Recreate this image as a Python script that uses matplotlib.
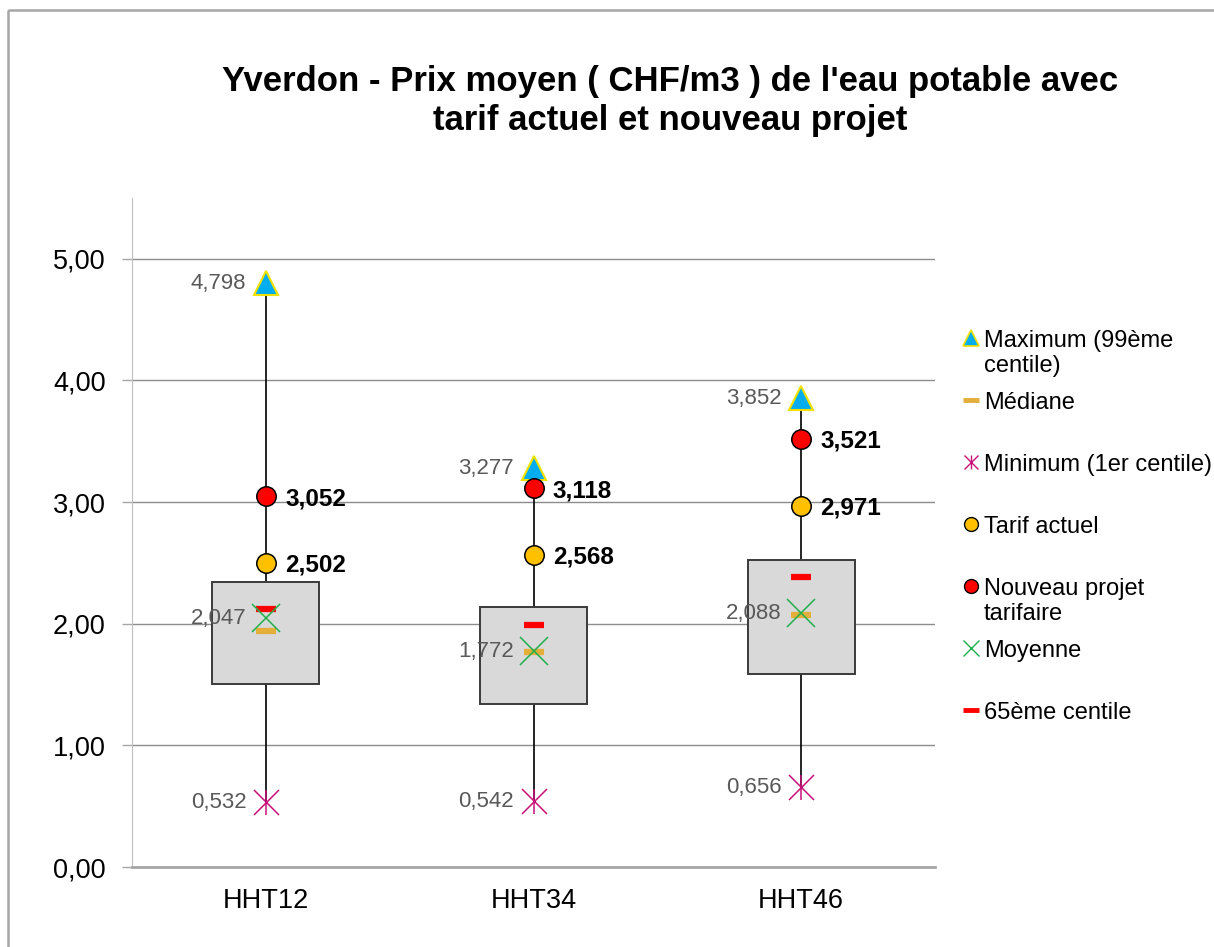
import matplotlib
matplotlib.use("Agg")
import matplotlib.pyplot as plt
from matplotlib.patches import Rectangle

plt.rcParams['font.family'] = ['Liberation Sans', 'DejaVu Sans']

# values (CHF/m3)
categories = ["HHT12", "HHT34", "HHT46"]
maximum = [4.798, 3.277, 3.852]        # 99eme centile
minimum = [0.532, 0.542, 0.656]        # 1er centile
q1 = [1.502, 1.340, 1.587]             # bas de la boite
q3 = [2.344, 2.141, 2.525]             # haut de la boite
mediane = [1.943, 1.765, 2.074]
moyenne = [2.047, 1.772, 2.088]
centile65 = [2.118, 1.987, 2.382]
tarif_actuel = [2.502, 2.568, 2.971]
nouveau_projet = [3.052, 3.118, 3.521]
yticks = [0, 1, 2, 3, 4, 5]

title = "Yverdon - Prix moyen ( CHF/m3 ) de l'eau potable avec\ntarif actuel et nouveau projet"


def fr(v, nd=3):
    return f"{v:.{nd}f}".replace(".", ",")


W, H = 1214, 947
fig = plt.figure(figsize=(W / 100, H / 100), dpi=100)
ax = fig.add_axes([132 / W, 80 / H, 803 / W, 669 / H])
x = [i + 0.5 for i in range(len(categories))]

# whiskers + boxes
ax.vlines(x, minimum, maximum, color='black', lw=1.2, zorder=2)
ax.bar(x, [b - a for a, b in zip(q1, q3)], bottom=q1, width=0.4,
       color='#D9D9D9', edgecolor='#3A3A3A', lw=1.4, zorder=3)

ax.plot(x, mediane, ls='none', marker='_', ms=15, mew=4.5, color='#E3AE3A', zorder=4)
ax.plot(x, centile65, ls='none', marker='_', ms=15, mew=4.5, color='#FF0000', zorder=4)
ax.plot(x, moyenne, ls='none', marker='x', ms=20, mew=1.1, color='#1FB04B', zorder=5)
ax.plot(x, minimum, ls='none', marker='x', ms=18, mew=1.1, color='#C8107A', zorder=5)
ax.plot(x, minimum, ls='none', marker='|', ms=18, mew=1.1, color='#C8107A', zorder=5)
ax.plot(x, maximum, ls='none', marker='^', ms=17, mfc='#00AEEF', mec='#F2E100',
        mew=1.5, zorder=5)
ax.plot(x, tarif_actuel, ls='none', marker='o', ms=14, mfc='#FFC000', mec='black',
        mew=1.1, zorder=6)
ax.plot(x, nouveau_projet, ls='none', marker='o', ms=14, mfc='#FF0000', mec='black',
        mew=1.1, zorder=6)

# data labels
for xi, vals in zip(x, zip(maximum, moyenne, minimum)):
    for v in vals:
        ax.annotate(fr(v), (xi, v), xytext=(-14, 0), textcoords='offset points',
                    ha='right', va='center', fontsize=16, color='#595959', zorder=7)
for xi, vals in zip(x, zip(tarif_actuel, nouveau_projet)):
    for v in vals:
        ax.annotate(fr(v), (xi, v), xytext=(14, -2), textcoords='offset points',
                    ha='left', va='center', fontsize=17.5, fontweight='bold',
                    color='black', zorder=7)

ax.set_xlim(0, 3)
ax.set_ylim(0, 5.5)
ax.set_xticks(x)
ax.set_xticklabels(categories, fontsize=19.5)
ax.set_yticks(yticks)
ax.set_yticklabels([fr(t, 2) for t in yticks], fontsize=19.5)
ax.tick_params(axis='x', length=0, pad=15)
ax.tick_params(axis='y', length=7, width=1, color='#A6A6A6', pad=12)
ax.yaxis.grid(True, color='#8C8C8C', lw=1)
ax.set_axisbelow(True)
for s in ['top', 'right']:
    ax.spines[s].set_visible(False)
ax.spines['left'].set_color('#BFBFBF')
ax.spines['bottom'].set_color('#A6A6A6')
ax.spines['bottom'].set_linewidth(2)
ax.set_facecolor('none')

fig.text(670 / W, 1 - 101 / H, title, ha='center', va='center', fontsize=25,
         fontweight='bold', linespacing=1.24)

# overlay in pixel coordinates for the frame and the legend
lax = fig.add_axes([0, 0, 1, 1], zorder=-1)
lax.set_xlim(0, W)
lax.set_ylim(H, 0)
lax.axis('off')
lax.add_patch(Rectangle((8, 10), W + 50, H + 50, fill=False, edgecolor='#A6A6A6', lw=1.8))

legend_items = [
    ("max", "Maximum (99ème\ncentile)"),
    ("med", "Médiane"),
    ("min", "Minimum (1er centile)"),
    ("tarif", "Tarif actuel"),
    ("nouv", "Nouveau projet\ntarifaire"),
    ("moy", "Moyenne"),
    ("c65", "65ème centile"),
]
mx, tx, y0, dy = 971, 984, 338, 62
for i, (kind, label) in enumerate(legend_items):
    y = y0 + i * dy
    if kind == "max":
        lax.plot(mx, y, marker='^', ms=11, mfc='#00AEEF', mec='#F2E100', mew=1.2)
    elif kind == "med":
        lax.plot(mx, y, marker='_', ms=11, mew=3.5, color='#E3AE3A')
    elif kind == "min":
        lax.plot(mx, y, marker='x', ms=10, mew=1, color='#C8107A')
        lax.plot(mx, y, marker='|', ms=10, mew=1, color='#C8107A')
    elif kind == "tarif":
        lax.plot(mx, y, marker='o', ms=10, mfc='#FFC000', mec='black', mew=1)
    elif kind == "nouv":
        lax.plot(mx, y, marker='o', ms=10, mfc='#FF0000', mec='black', mew=1)
    elif kind == "moy":
        lax.plot(mx, y, marker='x', ms=11, mew=1, color='#1FB04B')
    else:
        lax.plot(mx, y, marker='_', ms=11, mew=3.5, color='#FF0000')
    for j, line in enumerate(label.split("\n")):
        lax.text(tx, y + j * 25, line, ha='left', va='center_baseline', fontsize=17)

fig.savefig("out.png", dpi=100)
